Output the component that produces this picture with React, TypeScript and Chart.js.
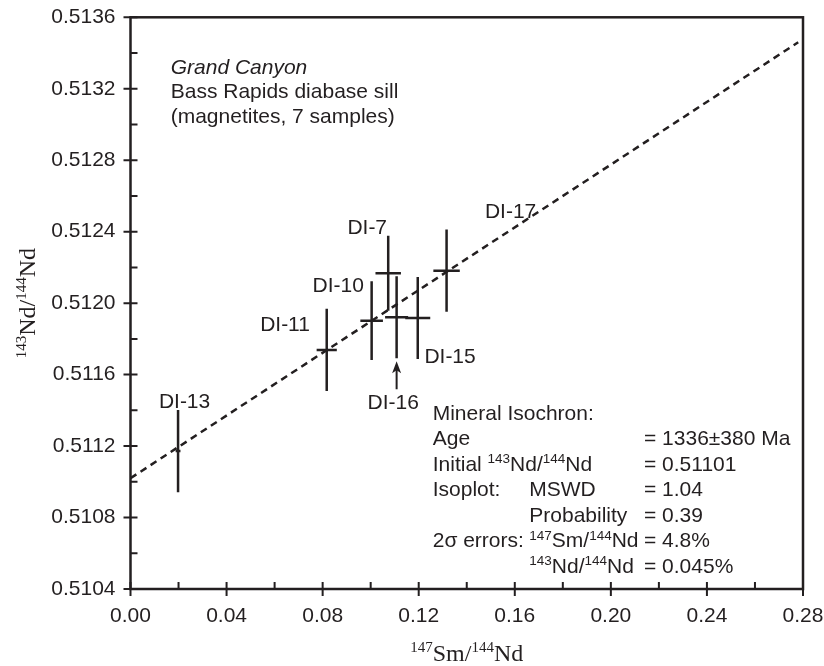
import React, { useEffect, useRef } from "react";
import { Chart, registerables } from "chart.js";

Chart.register(...registerables);

// ---- data ----
const sampleNames = ["DI-13", "DI-11", "DI-10", "DI-7", "DI-16", "DI-15", "DI-17"];
const smNd = [0.0198, 0.0817, 0.1004, 0.1073, 0.1108, 0.1196, 0.1316];
const ndNd = [0.511172, 0.511738, 0.511902, 0.512167, 0.511921, 0.511917, 0.512182];
const smNdErr = [0.001, 0.0042, 0.0047, 0.0053, 0.0048, 0.0052, 0.0055];
const ndNdErr = [0.00023, 0.00023, 0.00022, 0.00021, 0.00023, 0.00023, 0.00023];

const isochronX = [0, 0.278];
const isochronY = [0.51102, 0.51346];

const xTicks = [0, 0.04, 0.08, 0.12, 0.16, 0.2, 0.24, 0.28];
const xMinorTicks = [0.02, 0.06, 0.1, 0.14, 0.18, 0.22, 0.26];
const yTicks = [0.5104, 0.5108, 0.5112, 0.5116, 0.512, 0.5124, 0.5128, 0.5132, 0.5136];
const yMinorTicks = [0.5106, 0.511, 0.5114, 0.5118, 0.5122, 0.5126, 0.513, 0.5134];

// label placement (pixel offsets from each sample's point)
const labelOffsetX = [6.5, -41.7, -33.4, -21, -3.4, 32.3, 64];
const labelOffsetY = [-49, -25, -34, -45, 86, 39.3, -58];

const headerLines = ["Grand Canyon", "Bass Rapids diabase sill", "(magnetites, 7 samples)"];

type Run = { t: string; sup?: boolean };
const infoRows: Run[][][] = [
  [[{ t: "Mineral Isochron:" }], [], []],
  [[{ t: "Age" }], [], [{ t: "= 1336±380 Ma" }]],
  [[{ t: "Initial " }, { t: "143", sup: true }, { t: "Nd/" }, { t: "144", sup: true }, { t: "Nd" }], [], [{ t: "= 0.51101" }]],
  [[{ t: "Isoplot:" }], [{ t: "MSWD" }], [{ t: "= 1.04" }]],
  [[], [{ t: "Probability" }], [{ t: "= 0.39" }]],
  [[{ t: "2σ errors:" }], [{ t: "147", sup: true }, { t: "Sm/" }, { t: "144", sup: true }, { t: "Nd" }], [{ t: "= 4.8%" }]],
  [[], [{ t: "143", sup: true }, { t: "Nd/" }, { t: "144", sup: true }, { t: "Nd" }], [{ t: "= 0.045%" }]],
];

const INK = "#231f20";
const SANS = '"Liberation Sans", Arial, Helvetica, sans-serif';
const SERIF = '"Liberation Serif", "Times New Roman", serif';

function runsWidth(ctx: CanvasRenderingContext2D, runs: Run[], size: number, supSize: number, family: string) {
  let w = 0;
  for (const r of runs) {
    ctx.font = `${r.sup ? supSize : size}px ${family}`;
    w += ctx.measureText(r.t).width;
  }
  return w;
}

function drawRuns(
  ctx: CanvasRenderingContext2D,
  runs: Run[],
  x: number,
  y: number,
  size: number,
  supSize: number,
  supRaise: number,
  family: string
) {
  let cx = x;
  ctx.textAlign = "left";
  ctx.textBaseline = "alphabetic";
  for (const r of runs) {
    ctx.font = `${r.sup ? supSize : size}px ${family}`;
    ctx.fillText(r.t, cx, r.sup ? y - supRaise : y);
    cx += ctx.measureText(r.t).width;
  }
}

const decorPlugin = {
  id: "decor",
  afterDatasetsDraw(chart: any) {
    const ctx: CanvasRenderingContext2D = chart.ctx;
    const xs = chart.scales.x;
    const ys = chart.scales.y;
    const { left, right, top, bottom } = chart.chartArea;
    ctx.save();
    ctx.strokeStyle = INK;
    ctx.fillStyle = INK;
    ctx.lineCap = "butt";

    // error bars
    ctx.lineWidth = 2.5;
    for (let i = 0; i < smNd.length; i++) {
      const px = xs.getPixelForValue(smNd[i]);
      const py = ys.getPixelForValue(ndNd[i]);
      const x0 = xs.getPixelForValue(smNd[i] - smNdErr[i]);
      const x1 = xs.getPixelForValue(smNd[i] + smNdErr[i]);
      const y0 = ys.getPixelForValue(ndNd[i] - ndNdErr[i]);
      const y1 = ys.getPixelForValue(ndNd[i] + ndNdErr[i]);
      ctx.beginPath();
      ctx.moveTo(x0, py);
      ctx.lineTo(x1, py);
      ctx.moveTo(px, y0);
      ctx.lineTo(px, y1);
      ctx.stroke();
    }

    // sample labels
    ctx.font = `21px ${SANS}`;
    ctx.textAlign = "center";
    ctx.textBaseline = "middle";
    for (let i = 0; i < smNd.length; i++) {
      const px = xs.getPixelForValue(smNd[i]);
      const py = ys.getPixelForValue(ndNd[i]);
      ctx.fillText(sampleNames[i], px + labelOffsetX[i], py + labelOffsetY[i]);
    }

    // arrow for DI-16
    {
      const i = sampleNames.indexOf("DI-16");
      const px = xs.getPixelForValue(smNd[i]);
      const py = ys.getPixelForValue(ndNd[i]);
      ctx.lineWidth = 2;
      ctx.beginPath();
      ctx.moveTo(px, py + 72);
      ctx.lineTo(px, py + 50);
      ctx.stroke();
      ctx.beginPath();
      ctx.moveTo(px, py + 44);
      ctx.lineTo(px - 4.5, py + 56);
      ctx.lineTo(px, py + 53);
      ctx.lineTo(px + 4.5, py + 56);
      ctx.closePath();
      ctx.fill();
    }

    // frame
    ctx.lineWidth = 2.5;
    ctx.strokeRect(left, top, right - left, bottom - top);

    // ticks
    ctx.lineWidth = 2;
    ctx.beginPath();
    for (const v of xTicks) {
      const p = xs.getPixelForValue(v);
      ctx.moveTo(p, bottom - 7);
      ctx.lineTo(p, bottom + 7);
    }
    for (const v of xMinorTicks) {
      const p = xs.getPixelForValue(v);
      ctx.moveTo(p, bottom);
      ctx.lineTo(p, bottom - 7);
    }
    for (const v of yTicks) {
      const p = ys.getPixelForValue(v);
      ctx.moveTo(left - 7, p);
      ctx.lineTo(left + 7, p);
    }
    for (const v of yMinorTicks) {
      const p = ys.getPixelForValue(v);
      ctx.moveTo(left, p);
      ctx.lineTo(left + 7, p);
    }
    ctx.stroke();

    // header text
    ctx.textAlign = "left";
    ctx.textBaseline = "middle";
    headerLines.forEach((line, k) => {
      ctx.font = `${k === 0 ? "italic " : ""}21px ${SANS}`;
      ctx.fillText(line, 170.7, 67.7 + k * 24.8);
    });

    // info block
    const colX = [432.7, 529.3, 644];
    infoRows.forEach((row, r) => {
      const baseY = 412 + r * 25.5 + 7.5;
      row.forEach((runs, c) => {
        if (runs.length) drawRuns(ctx, runs, colX[c], baseY, 21, 13.5, 7.5, SANS);
      });
    });

    // axis titles
    const xTitle: Run[] = [{ t: "147", sup: true }, { t: "Sm/" }, { t: "144", sup: true }, { t: "Nd" }];
    const yTitle: Run[] = [{ t: "143", sup: true }, { t: "Nd/" }, { t: "144", sup: true }, { t: "Nd" }];
    const tw = runsWidth(ctx, xTitle, 24, 15, SERIF);
    drawRuns(ctx, xTitle, (left + right) / 2 - tw / 2, 661, 24, 15, 9.5, SERIF);
    const yw = runsWidth(ctx, yTitle, 24, 15, SERIF);
    ctx.save();
    ctx.translate(35, (top + bottom) / 2);
    ctx.rotate(-Math.PI / 2);
    drawRuns(ctx, yTitle, -yw / 2, 0, 24, 15, 9.5, SERIF);
    ctx.restore();

    ctx.restore();
  },
};

export default function App() {
  const ref = useRef<HTMLCanvasElement | null>(null);
  useEffect(() => {
    if (!ref.current) return;
    const chart = new Chart(ref.current, {
      type: "scatter",
      data: {
        datasets: [
          {
            type: "line",
            data: isochronX.map((x, i) => ({ x, y: isochronY[i] })),
            borderColor: INK,
            borderWidth: 2.5,
            borderDash: [7, 5],
            pointRadius: 0,
            fill: false,
          } as any,
          {
            data: smNd.map((x, i) => ({ x, y: ndNd[i] })),
            pointRadius: 0,
            borderWidth: 0,
          },
        ],
      },
      options: {
        animation: false,
        responsive: false,
        devicePixelRatio: 1,
        layout: { padding: { top: 17.3, right: 21, left: 0, bottom: 0 } },
        plugins: { legend: { display: false }, tooltip: { enabled: false }, title: { display: false } },
        scales: {
          x: {
            type: "linear",
            min: 0,
            max: 0.28,
            grid: { display: false, drawTicks: false },
            border: { display: false },
            ticks: {
              color: INK,
              font: { family: SANS, size: 21 },
              padding: 14.5,
              maxRotation: 0,
              autoSkip: false,
              callback: (v: any) => Number(v).toFixed(2),
            },
            afterBuildTicks: (s: any) => {
              s.ticks = xTicks.map((v) => ({ value: v }));
            },
            afterFit: (s: any) => {
              s.height = 77;
              s.paddingLeft = 0;
              s.paddingRight = 0;
              s.paddingTop = 0;
              s.paddingBottom = 0;
            },
          },
          y: {
            type: "linear",
            min: 0.5104,
            max: 0.5136,
            grid: { display: false, drawTicks: false },
            border: { display: false },
            ticks: {
              color: INK,
              font: { family: SANS, size: 21 },
              padding: 15,
              autoSkip: false,
              callback: (v: any) => Number(v).toFixed(4),
            },
            afterBuildTicks: (s: any) => {
              s.ticks = yTicks.map((v) => ({ value: v }));
            },
            afterFit: (s: any) => {
              s.width = 130.5;
              s.paddingLeft = 0;
              s.paddingRight = 0;
              s.paddingTop = 0;
              s.paddingBottom = 0;
            },
          },
        },
      },
      plugins: [decorPlugin],
    });
    return () => chart.destroy();
  }, []);
  return (
    <div style={{ position: "absolute", left: 0, top: 0, width: 824, height: 666, overflow: "hidden" }}>
      <canvas ref={ref} width={824} height={666} style={{ display: "block" }} />
    </div>
  );
}
